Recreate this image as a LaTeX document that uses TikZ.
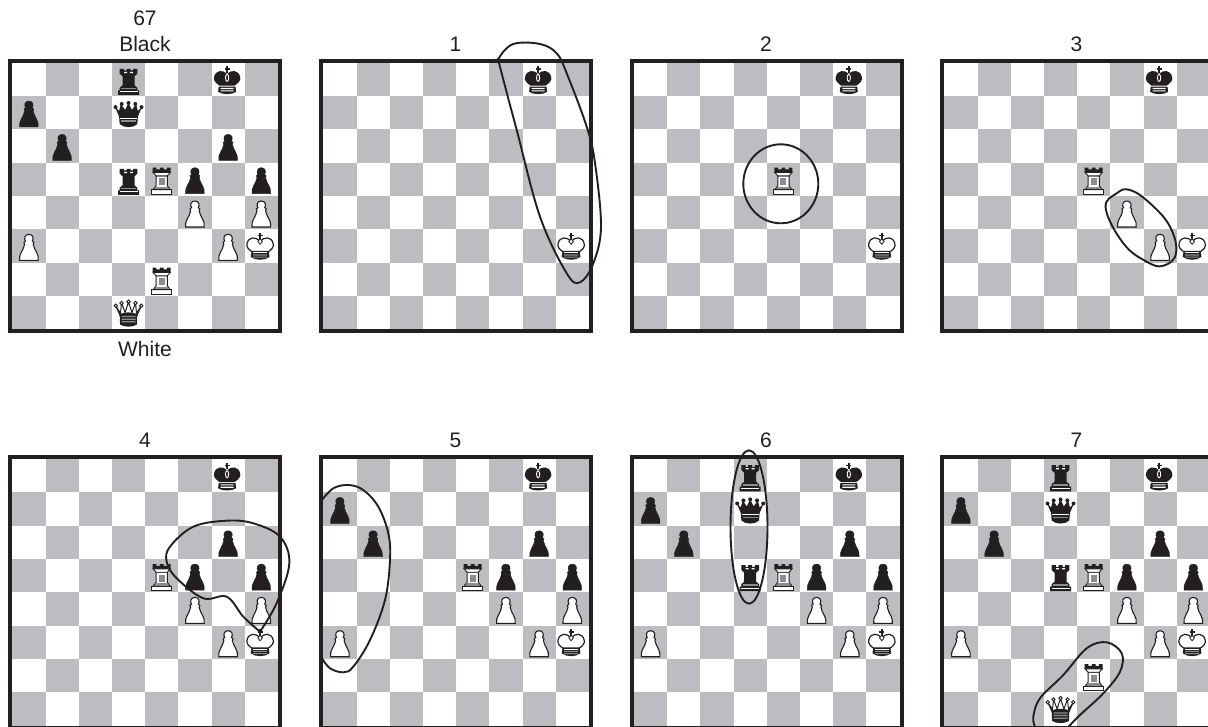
\documentclass[tikz,border=0pt]{standalone}
\usepackage{fontspec}
\setmainfont{Liberation Sans}
\definecolor{ink}{HTML}{231F20}
\definecolor{sq}{HTML}{BBBDC0}
\definecolor{mid}{HTML}{8A8C8E}
\tikzset{
  label text/.style={text=ink,font=\fontsize{21}{24}\selectfont,inner sep=0pt,anchor=center},
  loop line/.style={draw=ink,line width=1.9pt,line join=round},
  pawnshape/.pic={\path[pic actions] (-9.3,14.4) -- (9.3,14.4) .. controls (10.4,8) and (5.4,4.5) .. (4.3,-1.6) .. controls (5.4,-2.6) and (5.2,-4.4) .. (3.4,-5) .. controls (5,-7) and (4.4,-11.6) .. (0,-11.6) .. controls (-4.4,-11.6) and (-5,-7) .. (-3.4,-5) .. controls (-5.2,-4.4) and (-5.4,-2.6) .. (-4.3,-1.6) .. controls (-5.4,4.5) and (-10.4,8) .. (-9.3,14.4) -- cycle;},
  wp/.pic={\pic[fill=white,draw=ink,line width=1.1pt] {pawnshape};},
  bp/.pic={\pic[fill=ink,draw=ink,line width=.4pt] {pawnshape};},
  br/.pic={
    \fill[ink] (-8.8,-10.5) -- (-4.6,-10.5) -- (-4.6,-8.8) -- (-2,-8.8) -- (-2,-10.5) -- (2,-10.5) -- (2,-8.8) -- (4.6,-8.8) -- (4.6,-10.5) -- (8.8,-10.5) -- (8.8,-5.5) -- (6,-3) -- (6,6) -- (8.8,8.5) -- (8.8,11) -- (10.5,11) -- (10.5,15.6) -- (-10.5,15.6) -- (-10.5,11) -- (-8.8,11) -- (-8.8,8.5) -- (-6,6) -- (-6,-3) -- (-8.8,-5.5) -- cycle;
    \fill[white] (-4.5,-7.5) rectangle (-1.5,-6.2) (1.5,-7.5) rectangle (4.5,-6.2);
    \fill[mid] (-7.4,8.6) rectangle (7.4,10.2);
    \fill[white] (-9,12.2) rectangle (9,13.2);
  },
  wr/.pic={
    \fill[white,draw=ink,line width=1pt] (-10,10.4) rectangle (10,15);
    \fill[white,draw=ink,line width=1pt] (-8.4,10.4) -- (-5.6,6.5) -- (-5.6,-3.5) -- (5.6,-3.5) -- (5.6,6.5) -- (8.4,10.4) -- cycle;
    \fill[mid] (-3,-1) rectangle (3,6.2);
    \fill[mid] (-6.5,7.8) rectangle (6.5,10);
    \fill[ink] (-9,-11.6) -- (-5.4,-11.6) -- (-5.4,-9.8) -- (-1.8,-9.8) -- (-1.8,-11.6) -- (1.8,-11.6) -- (1.8,-9.8) -- (5.4,-9.8) -- (5.4,-11.6) -- (9,-11.6) -- (9,-6.8) -- (-9,-6.8) -- cycle;
    \fill[white,draw=ink,line width=.9pt] (-8.6,-6.8) -- (8.6,-6.8) -- (5.6,-3.4) -- (-5.6,-3.4) -- cycle;
  },
  kingcross/.pic={
    \draw[ink,line width=1.4pt] (0,-13) -- (0,-6.5) (-2.4,-10.4) -- (2.4,-10.4);
  },
  bk/.pic={
    \begin{scope}[xshift=-1pt]
    \pic {kingcross};
    \fill[ink] (-7.5,6.4) .. controls (-11,4) and (-14.4,1) .. (-13,-2.5) .. controls (-11.4,-9.4) and (-4,-9.8) .. (0,-5.4) .. controls (4,-9.8) and (11.4,-9.4) .. (13,-2.5) .. controls (14.4,1) and (11,4) .. (7.5,6.4) -- cycle;
    \draw[white,line width=.9pt] (0,-1.4) ellipse (1.6 and 3.6);
    \fill[ink] (-8.4,7.4) -- (8.4,7.4) -- (9,12.6) .. controls (5,15.6) and (-5,15.6) .. (-9,12.6) -- cycle;
    \fill[white] (-6.5,8.6) rectangle (6.5,9.8) (-6.5,11) rectangle (6.5,12.2);
    \end{scope}
  },
  wk/.pic={
    \begin{scope}[xshift=-1.2pt]
    \pic {kingcross};
    \fill[white,draw=ink,line width=1.2pt] (-7.5,6.4) .. controls (-11,4) and (-14.4,1) .. (-13,-2.5) .. controls (-11.4,-9.4) and (-4,-9.8) .. (0,-4) .. controls (4,-9.8) and (11.4,-9.4) .. (13,-2.5) .. controls (14.4,1) and (11,4) .. (7.5,6.4) -- cycle;
    \draw[ink,line width=.8pt,fill=white] (0,-7) -- (2.3,-4.4) -- (0,-1.6) -- (-2.3,-4.4) -- cycle;
    \fill[ink] (-8.4,5) -- (8.4,5) -- (9.4,11) .. controls (5,14.8) and (-5,14.8) .. (-9.4,11) -- cycle;
    \fill[white] (-7,6.2) rectangle (7,7.4);
    \fill[mid] (-7,8.5) rectangle (7,9.6) (-7,10.7) rectangle (7,11.8);
    \end{scope}
  },
  bq/.pic={
    \fill[ink] (-13,-5.5) circle (2) (-6.8,-8.6) circle (2) (0,-9.6) circle (2) (6.8,-8.6) circle (2) (13,-5.5) circle (2);
    \fill[ink] (-13.4,-5.5) -- (-9.4,-1.6) -- (-7.6,-8.6) -- (-3.4,-2.6) -- (0,-9.6) -- (3.4,-2.6) -- (7.6,-8.6) -- (9.4,-1.6) -- (13.4,-5.5) -- (9.4,4) -- (8.8,11.5) .. controls (5,15.6) and (-5,15.6) .. (-8.8,11.5) -- (-9.4,4) -- cycle;
    \fill[mid] (-7.5,7.8) rectangle (7.5,9.4);
    \fill[white] (-8.4,5.4) rectangle (8.4,6.5);
  },
  wq/.pic={
    \fill[white,draw=ink,line width=1pt] (-12.8,-6.8) -- (-8,0.5) -- (-7,-9.6) -- (-3.4,0) -- (0,-10.6) -- (3.4,0) -- (7,-9.6) -- (8,0.5) -- (12.8,-6.8) -- (8,4) -- (-8,4) -- cycle;
    \foreach \u/\v in {-12.8/-6.8,-7/-9.6,0/-10.9,7/-9.6,12.8/-6.8}{\draw[ink,fill=white,line width=.9pt] (\u,\v) circle (1.7);}
    \fill[ink] (-8.8,1.6) .. controls (-4,-.8) and (4,-.8) .. (8.8,1.6) -- (8.4,12) .. controls (4,14.8) and (-4,14.8) .. (-8.4,12) -- cycle;
    \fill[mid] (-7,3.4) rectangle (7,4.6) (-7,6) rectangle (7,7.2) (-7,8.6) rectangle (7,9.8);
  },
}
\newcommand{\boardat}[3]{%
  \begin{scope}[shift={(#1,#2)}]
    \foreach \r in {0,...,7}{\foreach \c in {0,...,7}{%
      \pgfmathparse{int(mod(\r+\c,2))}%
      \ifnum\pgfmathresult=1 \fill[sq] ({\c*33.2},{\r*33.33}) rectangle ({(\c+1)*33.2},{(\r+1)*33.33});\fi
    }}
    \draw[ink,line width=4pt] (-2,-1.8) rectangle (267.6,268.6);
    \foreach \t/\c/\r in {#3}{\pic at ({(\c+.5)*33.2},{(\r+.5)*33.33}) {\t};}
  \end{scope}}
\begin{document}
\begin{tikzpicture}[x=1pt,y=-1pt]
\useasboundingbox (0,0) rectangle (1208,727);
\clip (0,0) rectangle (1208,727);
\fill[white] (0,0) rectangle (1208,727);
% boards, top row
\boardat{12.3}{62.6}{bk/6/0,wk/7/5,wr/4/3,wp/5/4,wp/6/5,bp/6/2,bp/5/3,bp/7/3,wp/7/4,bp/0/1,bp/1/2,wp/0/5,br/3/0,bq/3/1,br/3/3,wr/4/6,wq/3/7}
\boardat{323.3}{62.6}{bk/6/0,wk/7/5}
\boardat{634}{62.6}{bk/6/0,wk/7/5,wr/4/3}
\boardat{944.3}{62.6}{bk/6/0,wk/7/5,wr/4/3,wp/5/4,wp/6/5}
% boards, bottom row
\boardat{12.3}{459}{bk/6/0,wk/7/5,wr/4/3,wp/5/4,wp/6/5,bp/6/2,bp/5/3,bp/7/3,wp/7/4}
\boardat{323.3}{459}{bk/6/0,wk/7/5,wr/4/3,wp/5/4,wp/6/5,bp/6/2,bp/5/3,bp/7/3,wp/7/4,bp/0/1,bp/1/2,wp/0/5}
\boardat{634}{459}{bk/6/0,wk/7/5,wr/4/3,wp/5/4,wp/6/5,bp/6/2,bp/5/3,bp/7/3,wp/7/4,bp/0/1,bp/1/2,wp/0/5,br/3/0,bq/3/1,br/3/3}
\boardat{944.3}{459}{bk/6/0,wk/7/5,wr/4/3,wp/5/4,wp/6/5,bp/6/2,bp/5/3,bp/7/3,wp/7/4,bp/0/1,bp/1/2,wp/0/5,br/3/0,bq/3/1,br/3/3,wr/4/6,wq/3/7}
% labels
\node[label text] (n67) at (145,18) {67};
\node[label text] (nblack) at (145,44) {Black};
\node[label text] (nwhite) at (145,349) {White};
\node[label text] (n1) at (455.5,44) {1};
\node[label text] (n2) at (766,44) {2};
\node[label text] (n3) at (1076.5,44) {3};
\node[label text] (n4) at (145,440) {4};
\node[label text] (n5) at (455.5,440) {5};
\node[label text] (n6) at (766,440) {6};
\node[label text] (n7) at (1076.5,440) {7};
% loops
\draw[loop line] plot[smooth cycle,tension=.6] coordinates {(499,58) (513.3,44) (540,44) (556.7,53.3) (566.7,73.3) (586.7,126.7) (595,163) (601,226.7) (593.3,263.3) (580,282.3) (566.7,273.3) (540,216.7) (516.7,130) (500,66.7)};
\draw[loop line] (780.8,183.8) ellipse (37.5 and 39.5);
\draw[loop line] plot[smooth cycle,tension=.7] coordinates {(1105.7,208.3) (1116.7,193.3) (1130,190) (1150,203.3) (1170,226.7) (1176,253.3) (1163.3,265.7) (1146.7,261.7) (1123.3,243.3)};
\draw[loop line] plot[smooth,tension=.6] coordinates {(260,631.7) (276.7,603) (289.3,563.3) (280,536.7) (253.3,523.3) (226.7,520.7) (193.3,526.7) (170,546.7) (166.7,561.7) (176.7,578.3) (203.3,598.3) (226.7,596.7) (243.3,616.7) (260,631.7)};
\draw[loop line] plot[smooth,tension=.6] coordinates {(322,500) (333.3,488.3) (348.3,485) (363.3,490) (378.3,506.7) (388.3,533.3) (390,560) (385,600) (370,640) (353.3,666.7) (343.3,672.3) (330,668.3) (322,658.3)};
\draw[loop line] (749,527) ellipse (18.5 and 76.7);
\draw[loop line] plot[smooth,tension=.6] coordinates {(1035,727) (1033.3,716.7) (1040,698.3) (1063.3,675) (1086.7,648.3) (1106.7,642.3) (1121.7,653.3) (1120,671.7) (1103.3,693.3) (1080,715) (1068.3,727)};
\end{tikzpicture}
\end{document}
